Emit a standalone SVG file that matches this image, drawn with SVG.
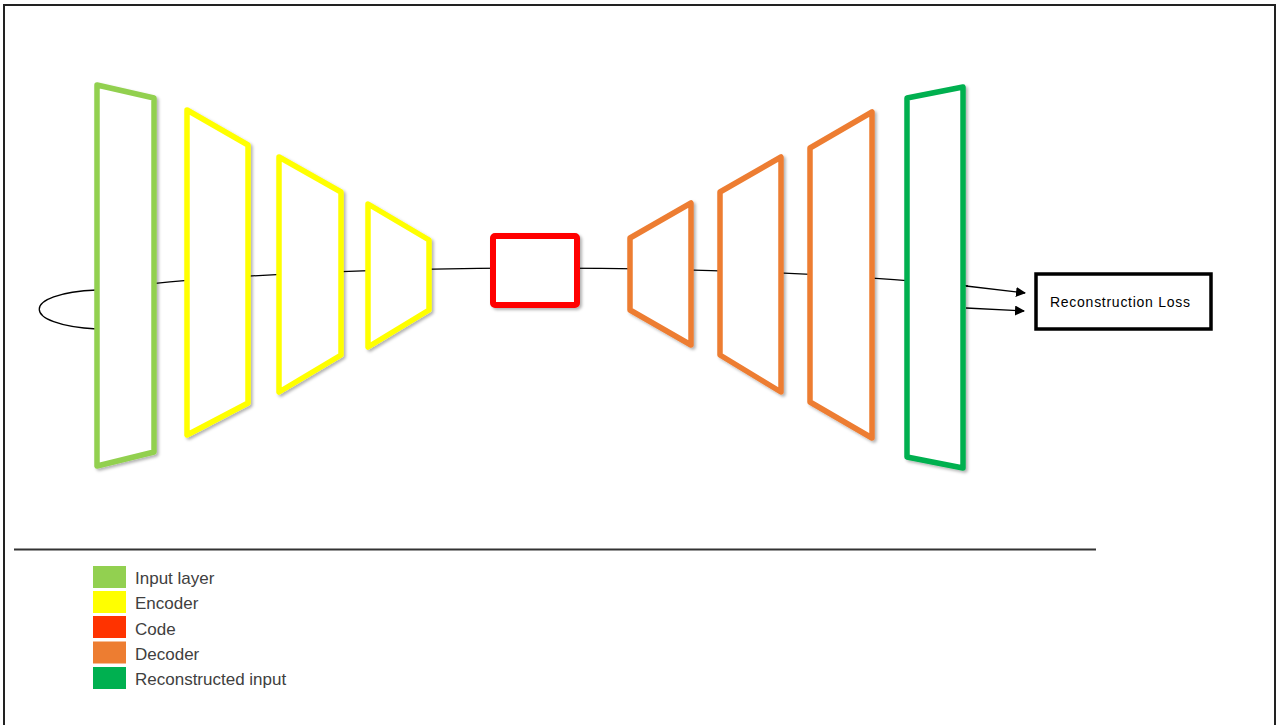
<svg xmlns="http://www.w3.org/2000/svg" width="1282" height="725" viewBox="0 0 1282 725">
  <defs>
    <filter id="sh" x="-20%" y="-20%" width="140%" height="140%">
      <feDropShadow dx="2" dy="2" stdDeviation="1.5" flood-color="#000" flood-opacity="0.3"/>
    </filter>
    <marker id="arr" viewBox="0 0 10 10" refX="9" refY="5" markerWidth="10" markerHeight="10" markerUnits="userSpaceOnUse" orient="auto">
      <path d="M0,0 L10,5 L0,10 z" fill="#000"/>
    </marker>
  </defs>
  <style>
    .layer { fill: #fff; stroke-width: 5.5; stroke-linejoin: round; filter: url(#sh); }
    .inp { stroke: #92D050; }
    .enc { stroke: #FFFF00; }
    .code { stroke: #FF0000; stroke-width: 6; }
    .dec { stroke: #ED7D31; }
    .rec { stroke: #00B050; }
    .conn { fill: none; stroke: #000; stroke-width: 1.3; }
    .lbl { font-family: "Liberation Sans", Arial, sans-serif; font-size: 17px; fill: #404040; }
  </style>
  <rect width="1282" height="725" fill="#fff"/>
  <path d="M4,725 V5 H1275 V725" fill="none" stroke="#222" stroke-width="2"/>

  <g id="connectors">
    <path class="conn" d="M97,290 C20,293 20,325 97,329"/>
    <path class="conn" d="M97,290 C300,263 700,260 968,286"/>
    <line class="conn" x1="966" y1="286" x2="1025" y2="293" marker-end="url(#arr)"/>
    <line class="conn" x1="966" y1="308" x2="1024" y2="311" marker-end="url(#arr)"/>
  </g>

  <g id="input-layer"><polygon class="layer inp" points="97,85 154,98 154,452 97,466"/></g>
  <g id="encoder-1"><polygon class="layer enc" points="187,110 248,145 248,403 187,435"/></g>
  <g id="encoder-2"><polygon class="layer enc" points="279,157 341,192 341,355 279,392"/></g>
  <g id="encoder-3"><polygon class="layer enc" points="368,204 429,240 429,310 368,347"/></g>
  <g id="code"><rect class="layer code" x="493" y="236" width="84" height="69" rx="2"/></g>
  <g id="decoder-1"><polygon class="layer dec" points="630,238 691,203 691,345 630,310"/></g>
  <g id="decoder-2"><polygon class="layer dec" points="720,192 781,157 781,392 720,355"/></g>
  <g id="decoder-3"><polygon class="layer dec" points="810,148 872,112 872,438 810,402"/></g>
  <g id="reconstructed"><polygon class="layer rec" points="907,98 963,87 963,468 907,457"/></g>

  <g id="loss">
    <rect x="1036" y="274" width="175" height="55" fill="#fff" stroke="#000" stroke-width="3.5"/>
    <text x="1050" y="307" font-family="Liberation Sans, Arial, sans-serif" font-size="14" fill="#000" textLength="140">Reconstruction Loss</text>
  </g>

  <line x1="14" y1="549.5" x2="1096" y2="549.5" stroke="#333" stroke-width="1.8"/>

  <g id="legend">
    <rect x="93" y="566" width="33" height="22" fill="#92D050"/>
    <text class="lbl" x="135" y="584">Input layer</text>
    <rect x="93" y="591" width="33" height="22" fill="#FFFF00"/>
    <text class="lbl" x="135" y="609">Encoder</text>
    <rect x="93" y="616" width="33" height="22" fill="#FF3300"/>
    <text class="lbl" x="135" y="634.5">Code</text>
    <rect x="93" y="641.5" width="33" height="22" fill="#ED7D31"/>
    <text class="lbl" x="135" y="660">Decoder</text>
    <rect x="93" y="667" width="33" height="22" fill="#00B050"/>
    <text class="lbl" x="135" y="685">Reconstructed input</text>
  </g>
</svg>
